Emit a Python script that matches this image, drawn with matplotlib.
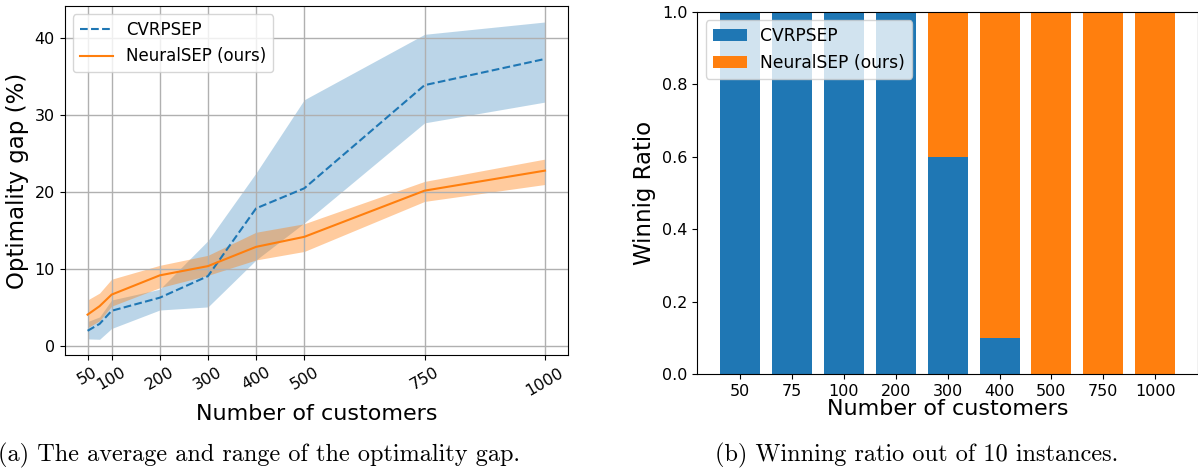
import matplotlib
matplotlib.use("Agg")
import matplotlib.pyplot as plt
import numpy as np

# ---- data ----
customers = [50, 75, 100, 200, 300, 400, 500, 750, 1000]
tick_customers = [50, 100, 200, 300, 400, 500, 750, 1000]

cvrpsep_mean = [2.0, 2.9, 4.6, 6.3, 9.1, 17.9, 20.5, 33.9, 37.3]
cvrpsep_low = [0.95, 0.9, 2.3, 4.7, 5.1, 11.2, 16.0, 29.0, 31.7]
cvrpsep_high = [3.2, 3.8, 6.0, 7.4, 13.7, 22.5, 32.0, 40.5, 42.1]

neural_mean = [4.1, 5.2, 6.7, 9.2, 10.4, 12.9, 14.2, 20.2, 22.8]
neural_low = [2.4, 3.3, 5.2, 7.6, 9.2, 11.2, 12.3, 18.8, 21.0]
neural_high = [6.0, 6.9, 8.7, 10.5, 11.8, 14.8, 15.9, 21.4, 24.3]

bar_labels = ["50", "75", "100", "200", "300", "400", "500", "750", "1000"]
cvrpsep_win = [1.0, 1.0, 1.0, 1.0, 0.6, 0.1, 0.0, 0.0, 0.0]
neural_win = [0.0, 0.0, 0.0, 0.0, 0.4, 0.9, 1.0, 1.0, 1.0]

blue = "#1f77b4"
orange = "#ff7f0e"

fig = plt.figure(figsize=(11.98, 4.71), dpi=100)

# ---- left panel ----
ax1 = fig.add_axes([0.054, 0.246, 0.420, 0.741])
ax1.plot(customers, cvrpsep_mean, "--", color=blue, lw=1.5, label="CVRPSEP")
ax1.fill_between(customers, cvrpsep_low, cvrpsep_high, color=blue, alpha=0.3, lw=0)
ax1.plot(customers, neural_mean, "-", color=orange, lw=1.5, label="NeuralSEP (ours)")
ax1.fill_between(customers, neural_low, neural_high, color=orange, alpha=0.4, lw=0)
ax1.set_xticks(tick_customers)
ax1.set_xticklabels([str(c) for c in tick_customers], rotation=30)
ax1.set_yticks([0, 10, 20, 30, 40])
ax1.tick_params(labelsize=11.5)
ax1.grid(True, color="#b0b0b0", lw=1.0)
ax1.set_xlabel("Number of customers", fontsize=16)
ax1.set_ylabel("Optimality gap (%)", fontsize=16.5)
ax1.legend(loc="upper left", fontsize=12)

# ---- right panel ----
ax2 = fig.add_axes([0.582, 0.206, 0.418, 0.769])
x = np.arange(len(bar_labels))
ax2.bar(x, cvrpsep_win, width=0.77, color=blue, label="CVRPSEP")
ax2.bar(x, neural_win, width=0.77, bottom=cvrpsep_win, color=orange, label="NeuralSEP (ours)")
ax2.set_xticks(x)
ax2.set_xticklabels(bar_labels)
ax2.set_ylim(0, 1.0)
ax2.tick_params(labelsize=11.5)
ax2.set_xlabel("Number of customers", fontsize=16, labelpad=0)
ax2.set_ylabel("Winnig Ratio", fontsize=16.5)
ax2.legend(loc="upper left", fontsize=12.3)

# ---- captions ----
fig.text(0.216, 0.034, "(a) The average and range of the optimality gap.",
         ha="center", va="center", family="cmr10", fontsize=17.5)
fig.text(0.765, 0.034, "(b) Winning ratio out of 10 instances.",
         ha="center", va="center", family="cmr10", fontsize=17.5)

fig.savefig("out.png", dpi=100)
